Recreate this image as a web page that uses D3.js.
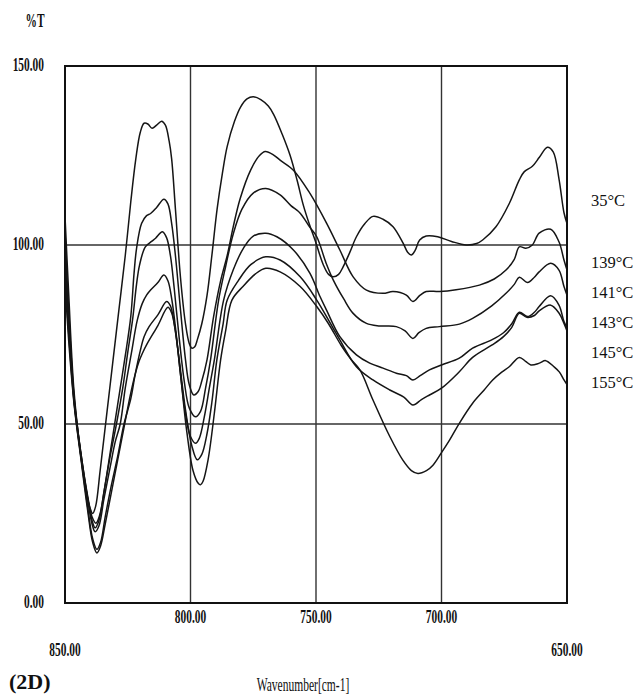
<!DOCTYPE html>
<html>
<head>
<meta charset="utf-8">
<script src="https://cdn.jsdelivr.net/npm/d3@7"></script>
<style>
  html, body { margin: 0; padding: 0; background: #fff; }
  svg { display: block; }
  .tick-label { font-family: "Liberation Serif", "DejaVu Serif", serif; fill: #111; }
</style>
</head>
<body>
<svg id="chart" width="641" height="697"></svg>
<script>
// IR spectra (%T vs wavenumber) recorded at several temperatures
const seriesLabels = ["35°C", "139°C", "141°C", "143°C", "145°C", "155°C"];

const t35 = [[850,108],[848.5,86],[846.5,60],[844,43],[841.5,31],[840,26.5],[839,25],[837.8,27],[836,37],[833.5,52],[831,67],[828.5,82],[826,97],[823.8,112],[821.8,124],[820,131.5],[818.5,134],[817,133.8],[815.3,132.6],[813.5,133.5],[811.5,134.6],[810,133.5],[808.5,129],[807.5,124],[806,110],[804,91],[802,78],[800.5,72.5],[799.5,71.2],[798.3,71.6],[797.3,73.5],[795.5,78],[793.4,86],[791.5,97],[789.4,110],[787.3,120],[785.4,127.5],[782.5,134.5],[780,138.6],[777.5,140.8],[775,141.4],[772,140.6],[769,138.8],[766.9,136.5],[763.5,131],[760.3,125],[757.5,118],[755,111],[752.5,105.5],[750.4,101.4],[747.1,94.5],[745,91.8],[743.1,91.1],[741,91.8],[739.2,93.9],[736.5,98],[733.9,102.3],[730.5,106],[727.3,108],[723.3,107.2],[719.3,105.1],[715.3,100.5],[713.5,98],[712,97.2],[710.5,98.5],[708.7,101.4],[706.1,102.5],[701.5,102.3],[696,101],[690.2,100],[686,100.4],[683.6,101.4],[678.3,105.1],[673,111.6],[669,118.2],[667,120.5],[663.8,122],[661,124.5],[657.8,127.3],[655.5,126],[653.2,118.5],[651.2,109],[650,106]];

const t139 = [[850,104],[848.5,81],[846.3,57],[843.7,42],[841,30],[839.2,24],[837.7,22.3],[836.2,24.5],[834,33],[832,42],[830,51],[828,60],[826,69],[823.8,80],[822.5,92],[821.5,99],[819.5,106],[817.5,108.2],[815.9,108.8],[813.5,110.5],[810.6,112.8],[809,111.5],[807.5,106],[806,97],[804,82],[802,68],[800.5,61],[798.7,58.1],[797,59],[795.5,62],[793.4,68],[790.8,80],[788,90],[785.4,97],[783,105],[780.2,113],[776,121],[772.5,125],[770.2,126.1],[767,125.2],[764.3,123.7],[759,120.9],[752.4,114.4],[745.8,106.1],[740.5,98.6],[735.2,91.1],[729.9,87.4],[723.3,86.5],[719.3,87],[714,86],[711.4,84.2],[708.5,86],[706.1,87],[700.8,87],[694.2,87.5],[684.9,88.8],[679,90.5],[674.3,93],[671,96],[669,99.5],[666.4,99.1],[663.8,100],[661.1,103.3],[656.5,104.4],[653.2,100.9],[651.2,95.8],[650,93]];

const t141 = [[850,100],[848.5,79],[846.3,56.5],[843.7,42],[841,29.5],[839.2,23],[838,21],[836.5,23],[834.5,31],[832,41],[829.5,50],[827,60],[825,70],[823.1,79],[821.5,89],[820.3,94.4],[818,99.5],[815.5,101],[813.9,101.9],[811.2,103.7],[809.5,102],[808,97],[806.5,88],[804.5,74],[802.5,62],[800.5,54.5],[798,52],[796,53.5],[794,60],[792,68],[788.8,84.6],[786,94],[783,103],[779.5,110],[775,114.5],[770,115.8],[764.3,114],[760,111],[756.3,108.9],[752.5,105],[749.7,102.3],[746,95],[743.1,90.2],[739,85],[735.2,80.9],[729.9,78.1],[724.6,77.4],[718,77.2],[714.5,76],[711.4,73.9],[709,75.5],[706.1,76.7],[700.8,77.2],[692.9,77.9],[687.6,79.5],[680,83],[674.3,86.5],[671,89],[669,91],[665.7,89.5],[663,91],[661.1,92.5],[656.5,94.9],[653.2,93],[651.2,88.4],[650,86]];

const t143 = [[850,96],[848.5,77],[846.3,56],[843.7,41.5],[841,29],[839.2,22],[838,19.9],[836.5,21.5],[834.5,29],[832,38],[830,45],[828,50],[826,60],[823.5,70],[821.2,79],[819.2,83.7],[817.5,86],[815.9,87.4],[813,89.5],[810.6,91.6],[809,90],[807.5,85],[806,77],[804,64],[802,53],[800,46.5],[798,44.6],[796.5,46],[794.5,52],[792.5,60],[790.5,67.9],[786.8,84.6],[783,93],[779,99],[775,102.5],[770,103.3],[765.6,102.3],[759,98.6],[752.4,92.1],[748.4,85.6],[745.8,81.8],[740.5,74.4],[733.9,69.3],[728.6,67],[723.3,65.6],[718,64.2],[714,63.5],[711.4,62.3],[708.5,63.5],[704.8,65.1],[700,66.5],[692.9,68.4],[687.6,71.2],[680,73.5],[675.3,75.5],[672,78],[669,81.2],[665.7,80],[663,81.2],[661.1,82.8],[656.5,85.8],[653.2,83.2],[651.2,78.6],[650,77]];

const t145 = [[850,92],[848.5,75],[846.3,55.5],[843.7,41],[841,27],[839,18],[837.3,15],[835.8,17],[834,24],[831.5,33],[829,41],[826.5,50],[823.8,57],[822,64],[820,70.5],[818.5,74.4],[816.5,77.2],[813,80.5],[809.5,84.2],[808,83],[806.5,78],[804.5,68],[802,54],[799.5,44],[797.3,40],[795.5,41.5],[793.5,47],[791.5,56],[789.5,67.9],[787,78],[785.4,84.6],[781,90],[776,94.5],[770,96.7],[764.3,95.8],[756.3,91.1],[749.7,84.6],[745,79],[740.5,73.5],[733.9,66],[727.3,62.3],[720.6,59.5],[715,57.5],[711.4,55.3],[708,56.8],[704.8,58.1],[700,60],[692.9,64.6],[687.6,68.6],[680,72],[675.3,74.4],[672,77],[669,80.9],[666,79.8],[663,80.3],[661.1,81.6],[656.5,83.2],[653.2,81],[651.2,78.1],[650,76]];

const t155 = [[850,90],[848.5,73],[846.3,55],[843.7,40.5],[841,26],[839,17],[837.3,14],[835.8,16],[834,22],[831.5,31],[829,40],[826.5,49],[824,58],[822,64],[820.5,67.5],[819.2,69.7],[817.2,72.5],[813,77.5],[809,82.6],[807.5,81],[806,76],[804,64],[801.5,48],[799,37],[797,33.5],[796,33],[795,34],[793,40],[790.5,53],[788,67.9],[786,76],[783.5,84.6],[779,88.5],[774,92],[770,93.5],[764.3,92.5],[756.3,88.4],[749.7,82.8],[745,78],[740,72],[736,68],[732.5,65.1],[727.3,56.7],[720.6,46.5],[715.4,39.9],[712,37],[709.4,36.2],[706,37],[703.4,38.5],[700,42],[696.8,45.5],[692.9,50.2],[687.6,55.8],[683,59.5],[679.6,62.3],[676,64.5],[673,66],[669,68.6],[666.5,67.5],[664.4,66.5],[661,67],[658.5,67.7],[655.2,66],[653,64.5],[651.2,62.3],[650,61]];

const spectra = [t35, t139, t141, t143, t145, t155];

const yTicks = [0, 50, 100, 150];
const xGridTicks = [800, 750, 700];
const xEndTicks = [850, 650];

const svg = d3.select("#chart");
const plot = { left: 65, right: 567, top: 66, bottom: 603 };

const x = d3.scaleLinear().domain([850, 650]).range([plot.left, plot.right]);
const y = d3.scaleLinear().domain([0, 150]).range([plot.bottom, plot.top]);
const fmt = d3.format(".2f");

// grid lines
const grid = svg.append("g").attr("stroke", "#333").attr("stroke-width", 1.4);
grid.selectAll("line.v").data(xGridTicks).join("line")
  .attr("x1", d => x(d)).attr("x2", d => x(d))
  .attr("y1", plot.top).attr("y2", plot.bottom);
grid.selectAll("line.h").data([50, 100]).join("line")
  .attr("x1", plot.left).attr("x2", plot.right)
  .attr("y1", d => y(d)).attr("y2", d => y(d));

// spectra
const line = d3.line()
  .x(d => x(d[0]))
  .y(d => y(d[1]))
  .curve(d3.curveCatmullRom.alpha(0.5));

svg.append("g")
  .selectAll("path")
  .data(spectra)
  .join("path")
  .attr("d", line)
  .attr("fill", "none")
  .attr("stroke", "#151515")
  .attr("stroke-width", 1.5)
  .attr("stroke-linejoin", "round");

// frame
svg.append("rect")
  .attr("x", plot.left).attr("y", plot.top)
  .attr("width", plot.right - plot.left).attr("height", plot.bottom - plot.top)
  .attr("fill", "none").attr("stroke", "#111").attr("stroke-width", 2);

// tall, narrow serif labels
function condensed(g, txt, cx, cy, size, anchor, sx, weight) {
  return g.append("text")
    .attr("class", "tick-label")
    .attr("font-size", size)
    .attr("font-weight", weight || "bold")
    .attr("text-anchor", anchor)
    .attr("dominant-baseline", "middle")
    .attr("transform", `translate(${cx},${cy}) scale(${sx},1)`)
    .text(txt);
}

const labels = svg.append("g");
yTicks.forEach(v => condensed(labels, fmt(v), 44, y(v) + 1, 19, "end", 0.6));
xGridTicks.forEach(v => condensed(labels, fmt(v), x(v), 619, 19, "middle", 0.6));
xEndTicks.forEach(v => condensed(labels, fmt(v), x(v), 652, 19, "middle", 0.6));
condensed(labels, "%T", 35, 23, 19, "middle", 0.6);
condensed(labels, "Wavenumber[cm-1]", 303, 687, 18, "middle", 0.64, "normal");

labels.append("text")
  .attr("x", 9).attr("y", 689)
  .attr("font-family", "Liberation Serif, serif")
  .attr("font-weight", "bold")
  .attr("font-size", 22)
  .attr("fill", "#111")
  .text("(2D)");

// temperature labels
const legendY = [202, 264, 294, 324, 354, 384];
labels.selectAll("text.temp").data(seriesLabels).join("text")
  .attr("class", "temp")
  .attr("x", 591)
  .attr("y", (d, i) => legendY[i])
  .attr("dominant-baseline", "middle")
  .attr("font-family", "Liberation Serif, serif")
  .attr("font-size", 16.5)
  .attr("fill", "#111")
  .text(d => d);
</script>
</body>
</html>
